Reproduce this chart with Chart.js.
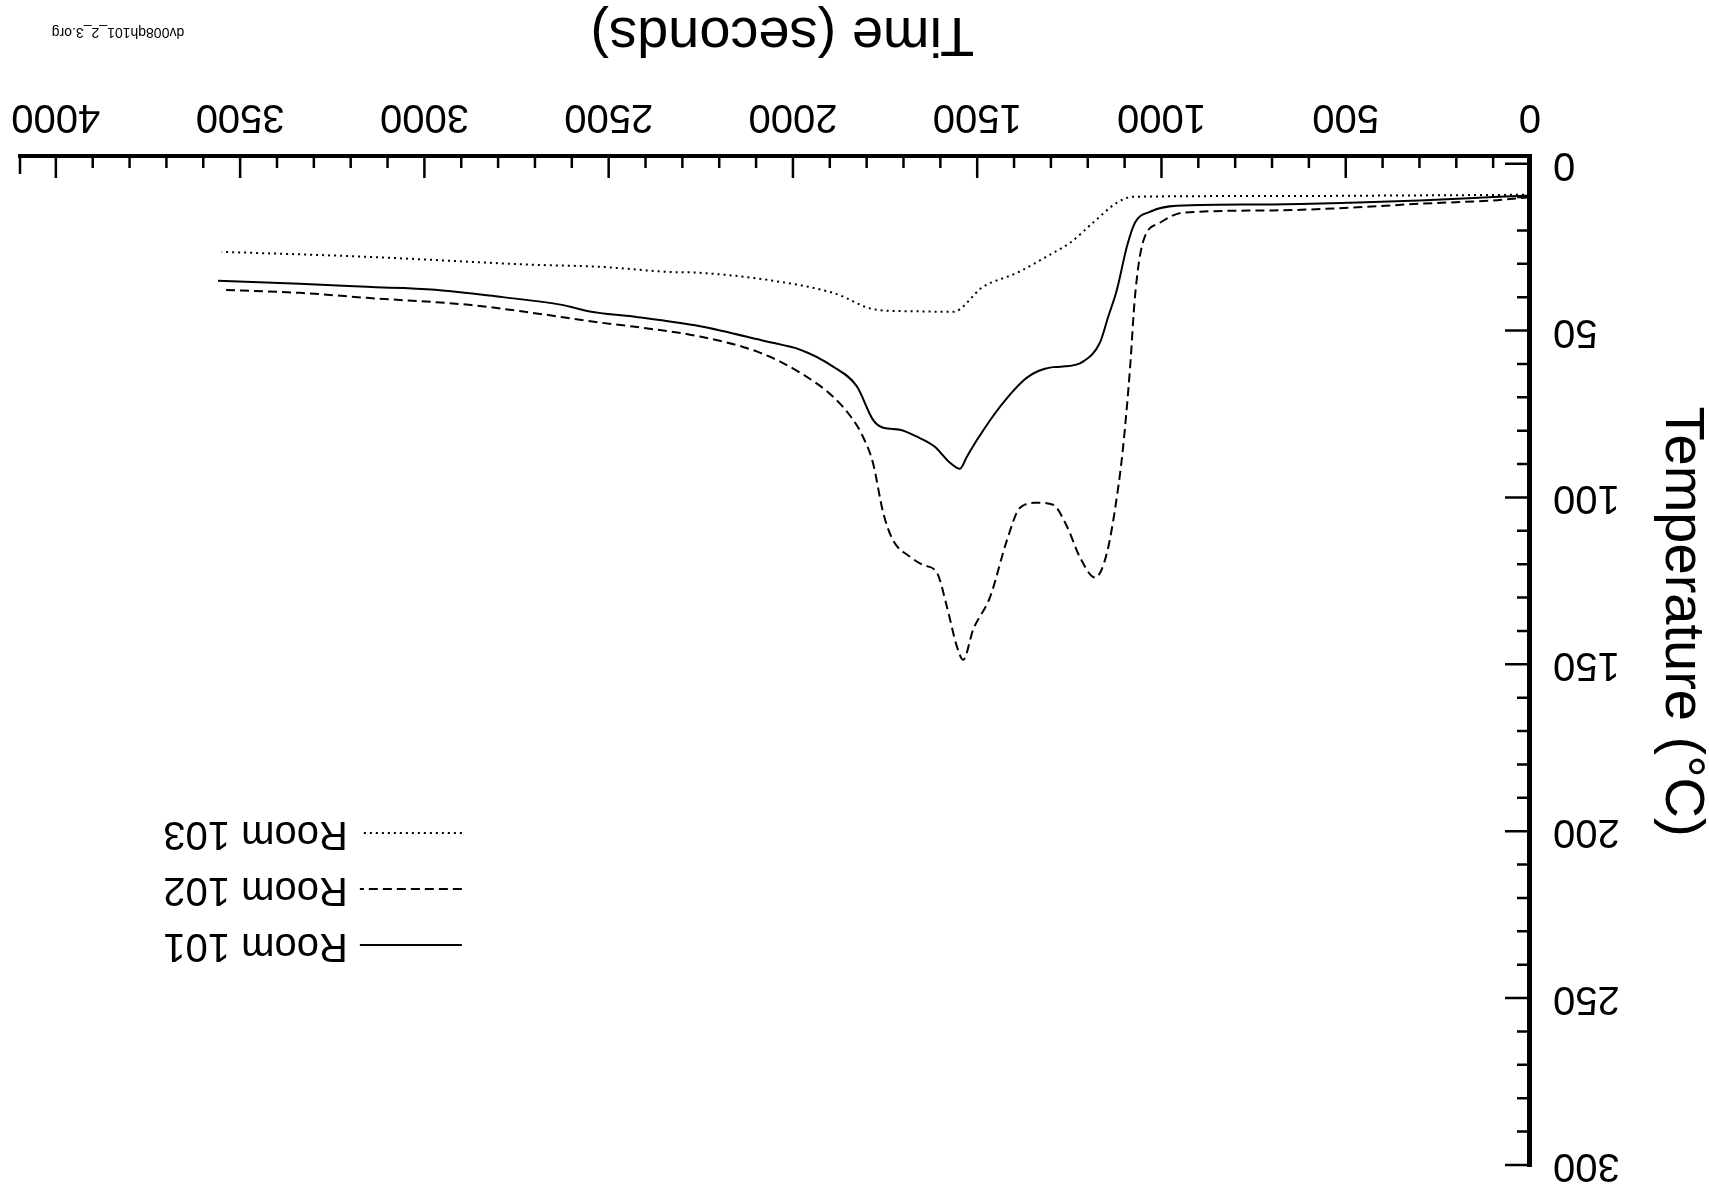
<!DOCTYPE html>
<html>
<head>
<meta charset="utf-8">
<script src="https://cdn.jsdelivr.net/npm/chart.js@4.4.0/dist/chart.umd.min.js"></script>
<style>
  html, body { margin: 0; padding: 0; background: #fff; overflow: hidden; }
  /* the scanned page is upside down, so the whole chart is turned */
  #wrap { width: 1709px; height: 1195px; transform: rotate(180deg); }
</style>
</head>
<body>
<div id="wrap"><canvas id="myChart" width="1709" height="1195"></canvas></div>
<script>
// Room 101 (solid)
const room101Time = [0, 100, 300, 488, 700, 958, 1031, 1072, 1094, 1121, 1145, 1167, 1213, 1267, 1303, 1365, 1438, 1495, 1528, 1547, 1574, 1615, 1658, 1710, 1755, 1783, 1826, 1891, 1981, 2071, 2252, 2434, 2551, 2627, 2795, 2971, 3156, 3338, 3560];
const room101Temp = [9.5, 10, 11, 11.7, 12.2, 12.6, 14.4, 17.7, 24.9, 37.8, 46, 53.6, 59.3, 60.8, 61.1, 64.1, 72.8, 81.8, 87.8, 91.4, 89.6, 84.8, 82.1, 79.7, 79.1, 76.7, 66.8, 60.8, 55.7, 53.3, 48.7, 45.8, 44.3, 42.3, 39.9, 37.8, 36.9, 36.0, 35.1];

// Room 102 (dashed)
const room102Time = [0, 100, 300, 488, 700, 942, 1004, 1050, 1072, 1085, 1104, 1121, 1148, 1180, 1221, 1256, 1294, 1338, 1384, 1419, 1465, 1511, 1538, 1555, 1582, 1609, 1647, 1682, 1729, 1755, 1783, 1810, 1837, 1891, 1981, 2090, 2252, 2434, 2524, 2706, 2879, 3156, 3338, 3550];
const room102Temp = [10, 11, 12, 13.2, 14, 14.7, 17.7, 23.4, 39.9, 60.8, 84.8, 99.8, 116.6, 124, 118, 108.8, 102.2, 101.6, 103.1, 112.7, 129.8, 139.6, 148.6, 144.7, 132.8, 122.6, 120.2, 117.8, 112.7, 104.6, 89.6, 81.8, 76.7, 69.8, 62.6, 56.6, 51.8, 48.8, 47.6, 44.7, 42.3, 40.2, 38.7, 37.8];

// Room 103 (dotted)
const room103Time = [0, 300, 700, 1077, 1121, 1186, 1248, 1303, 1392, 1484, 1566, 1680, 1772, 1891, 2071, 2252, 2342, 2524, 2700, 3156, 3550];
const room103Temp = [9.3, 9.5, 9.7, 9.9, 11.7, 17.7, 23.7, 27.3, 32.7, 36.9, 44.4, 44.2, 43.8, 38.7, 34.8, 32.7, 32.4, 30.9, 30.3, 27.9, 26.4];

const seriesNames = ["Room 101", "Room 102", "Room 103"];
const timeTicks = [0, 500, 1000, 1500, 2000, 2500, 3000, 3500, 4000];
const tempTicks = [0, 50, 100, 150, 200, 250, 300];
const fileLabel = "dv008qh101_2_3.org";

const FONT = "'Liberation Sans', Arial, sans-serif";

function toPoints(times, temps) {
  return times.map((t, i) => ({ x: t, y: temps[i] }));
}

// ticks pointing into the plot, long on the labelled values
const inwardTicks = {
  id: "inwardTicks",
  afterDraw(chart) {
    const { ctx, chartArea } = chart;
    const x = chart.scales.x;
    const y = chart.scales.y;
    ctx.save();
    ctx.strokeStyle = "#000";
    ctx.lineWidth = 2.5;
    ctx.beginPath();
    for (let t = 0; t <= 4000; t += 100) {
      const px = x.getPixelForValue(t);
      const len = t % 500 === 0 ? 22 : 12;
      ctx.moveTo(px, chartArea.bottom);
      ctx.lineTo(px, chartArea.bottom - len);
    }
    // end stop of the time axis
    const pEnd = x.getPixelForValue(x.max) - 1;
    ctx.moveTo(pEnd, chartArea.bottom);
    ctx.lineTo(pEnd, chartArea.bottom - 18);
    for (let v = 0; v <= 300; v += 10) {
      const py = y.getPixelForValue(v);
      const len = v % 50 === 0 ? 25 : 13;
      ctx.moveTo(chartArea.left, py);
      ctx.lineTo(chartArea.left + len, py);
    }
    ctx.stroke();
    ctx.restore();
  },
};

// legend drawn inside the plot, upper right
const innerLegend = {
  id: "innerLegend",
  afterDraw(chart) {
    const { ctx, chartArea } = chart;
    const x0 = chart.scales.x.getPixelForValue(4000) - 406;
    ctx.save();
    ctx.font = "40px " + FONT;
    ctx.fillStyle = "#000";
    ctx.textBaseline = "middle";
    chart.data.datasets.forEach((ds, i) => {
      const yy = chartArea.top + 220 + i * 56;
      ctx.strokeStyle = ds.borderColor;
      ctx.lineWidth = ds.borderWidth;
      ctx.setLineDash(ds.borderDash || []);
      ctx.beginPath();
      ctx.moveTo(x0, yy);
      ctx.lineTo(x0 + 102, yy);
      ctx.stroke();
      ctx.fillText(ds.label, x0 + 114, yy);
    });
    ctx.setLineDash([]);
    ctx.font = "14px " + FONT;
    ctx.textAlign = "center";
    ctx.fillText(fileLabel, chart.width - 118, chart.height - 32);
    ctx.restore();
  },
};

function main() {
  const ctx = document.getElementById("myChart").getContext("2d");
  new Chart(ctx, {
    type: "line",
    data: {
      datasets: [
        {
          label: seriesNames[0],
          data: toPoints(room101Time, room101Temp),
          borderColor: "#000",
          borderWidth: 2,
          borderDash: [],
        },
        {
          label: seriesNames[1],
          data: toPoints(room102Time, room102Temp),
          borderColor: "#000",
          borderWidth: 2,
          borderDash: [9, 5],
        },
        {
          label: seriesNames[2],
          data: toPoints(room103Time, room103Temp),
          borderColor: "#000",
          borderWidth: 2,
          borderDash: [2, 4],
        },
      ],
    },
    options: {
      responsive: false,
      animation: false,
      elements: { point: { radius: 0 }, line: { cubicInterpolationMode: "monotone" } },
      layout: { padding: { top: 30, right: 19, bottom: 0, left: 0 } },
      plugins: { legend: { display: false }, tooltip: { enabled: false } },
      scales: {
        x: {
          type: "linear",
          min: 0,
          max: 4100,
          grid: { display: false, drawTicks: false },
          border: { display: true, width: 4, color: "#000" },
          ticks: {
            padding: 16,
            color: "#000",
            font: { family: FONT, size: 40 },
            callback: (v) => String(v),
          },
          afterBuildTicks(scale) {
            scale.ticks = timeTicks.map((v) => ({ value: v }));
          },
          title: {
            display: true,
            text: "Time (seconds) ",
            color: "#000",
            font: { family: FONT, size: 56, lineHeight: 1 },
            padding: { top: 20, bottom: 5 },
          },
          afterFit(scale) {
            scale.height = 156;
            scale.paddingLeft = 0;
            scale.paddingRight = 0;
          },
        },
        y: {
          type: "linear",
          min: -2.3,
          max: 300,
          grid: { display: false, drawTicks: false },
          border: { display: true, width: 5, color: "#000" },
          ticks: {
            padding: 23,
            color: "#000",
            font: { family: FONT, size: 40 },
            callback: (v) => String(v),
          },
          afterBuildTicks(scale) {
            scale.ticks = tempTicks.map((v) => ({ value: v }));
          },
          title: {
            display: true,
            text: "Temperature (°C)     ",
            color: "#000",
            font: { family: FONT, size: 56, lineHeight: 1 },
            padding: { top: 0, bottom: 10 },
          },
          afterFit(scale) {
            scale.width = 179;
            scale.paddingTop = 0;
            scale.paddingBottom = 0;
          },
        },
      },
    },
    plugins: [inwardTicks, innerLegend],
  });
}

document.addEventListener("DOMContentLoaded", main);
</script>
</body>
</html>
